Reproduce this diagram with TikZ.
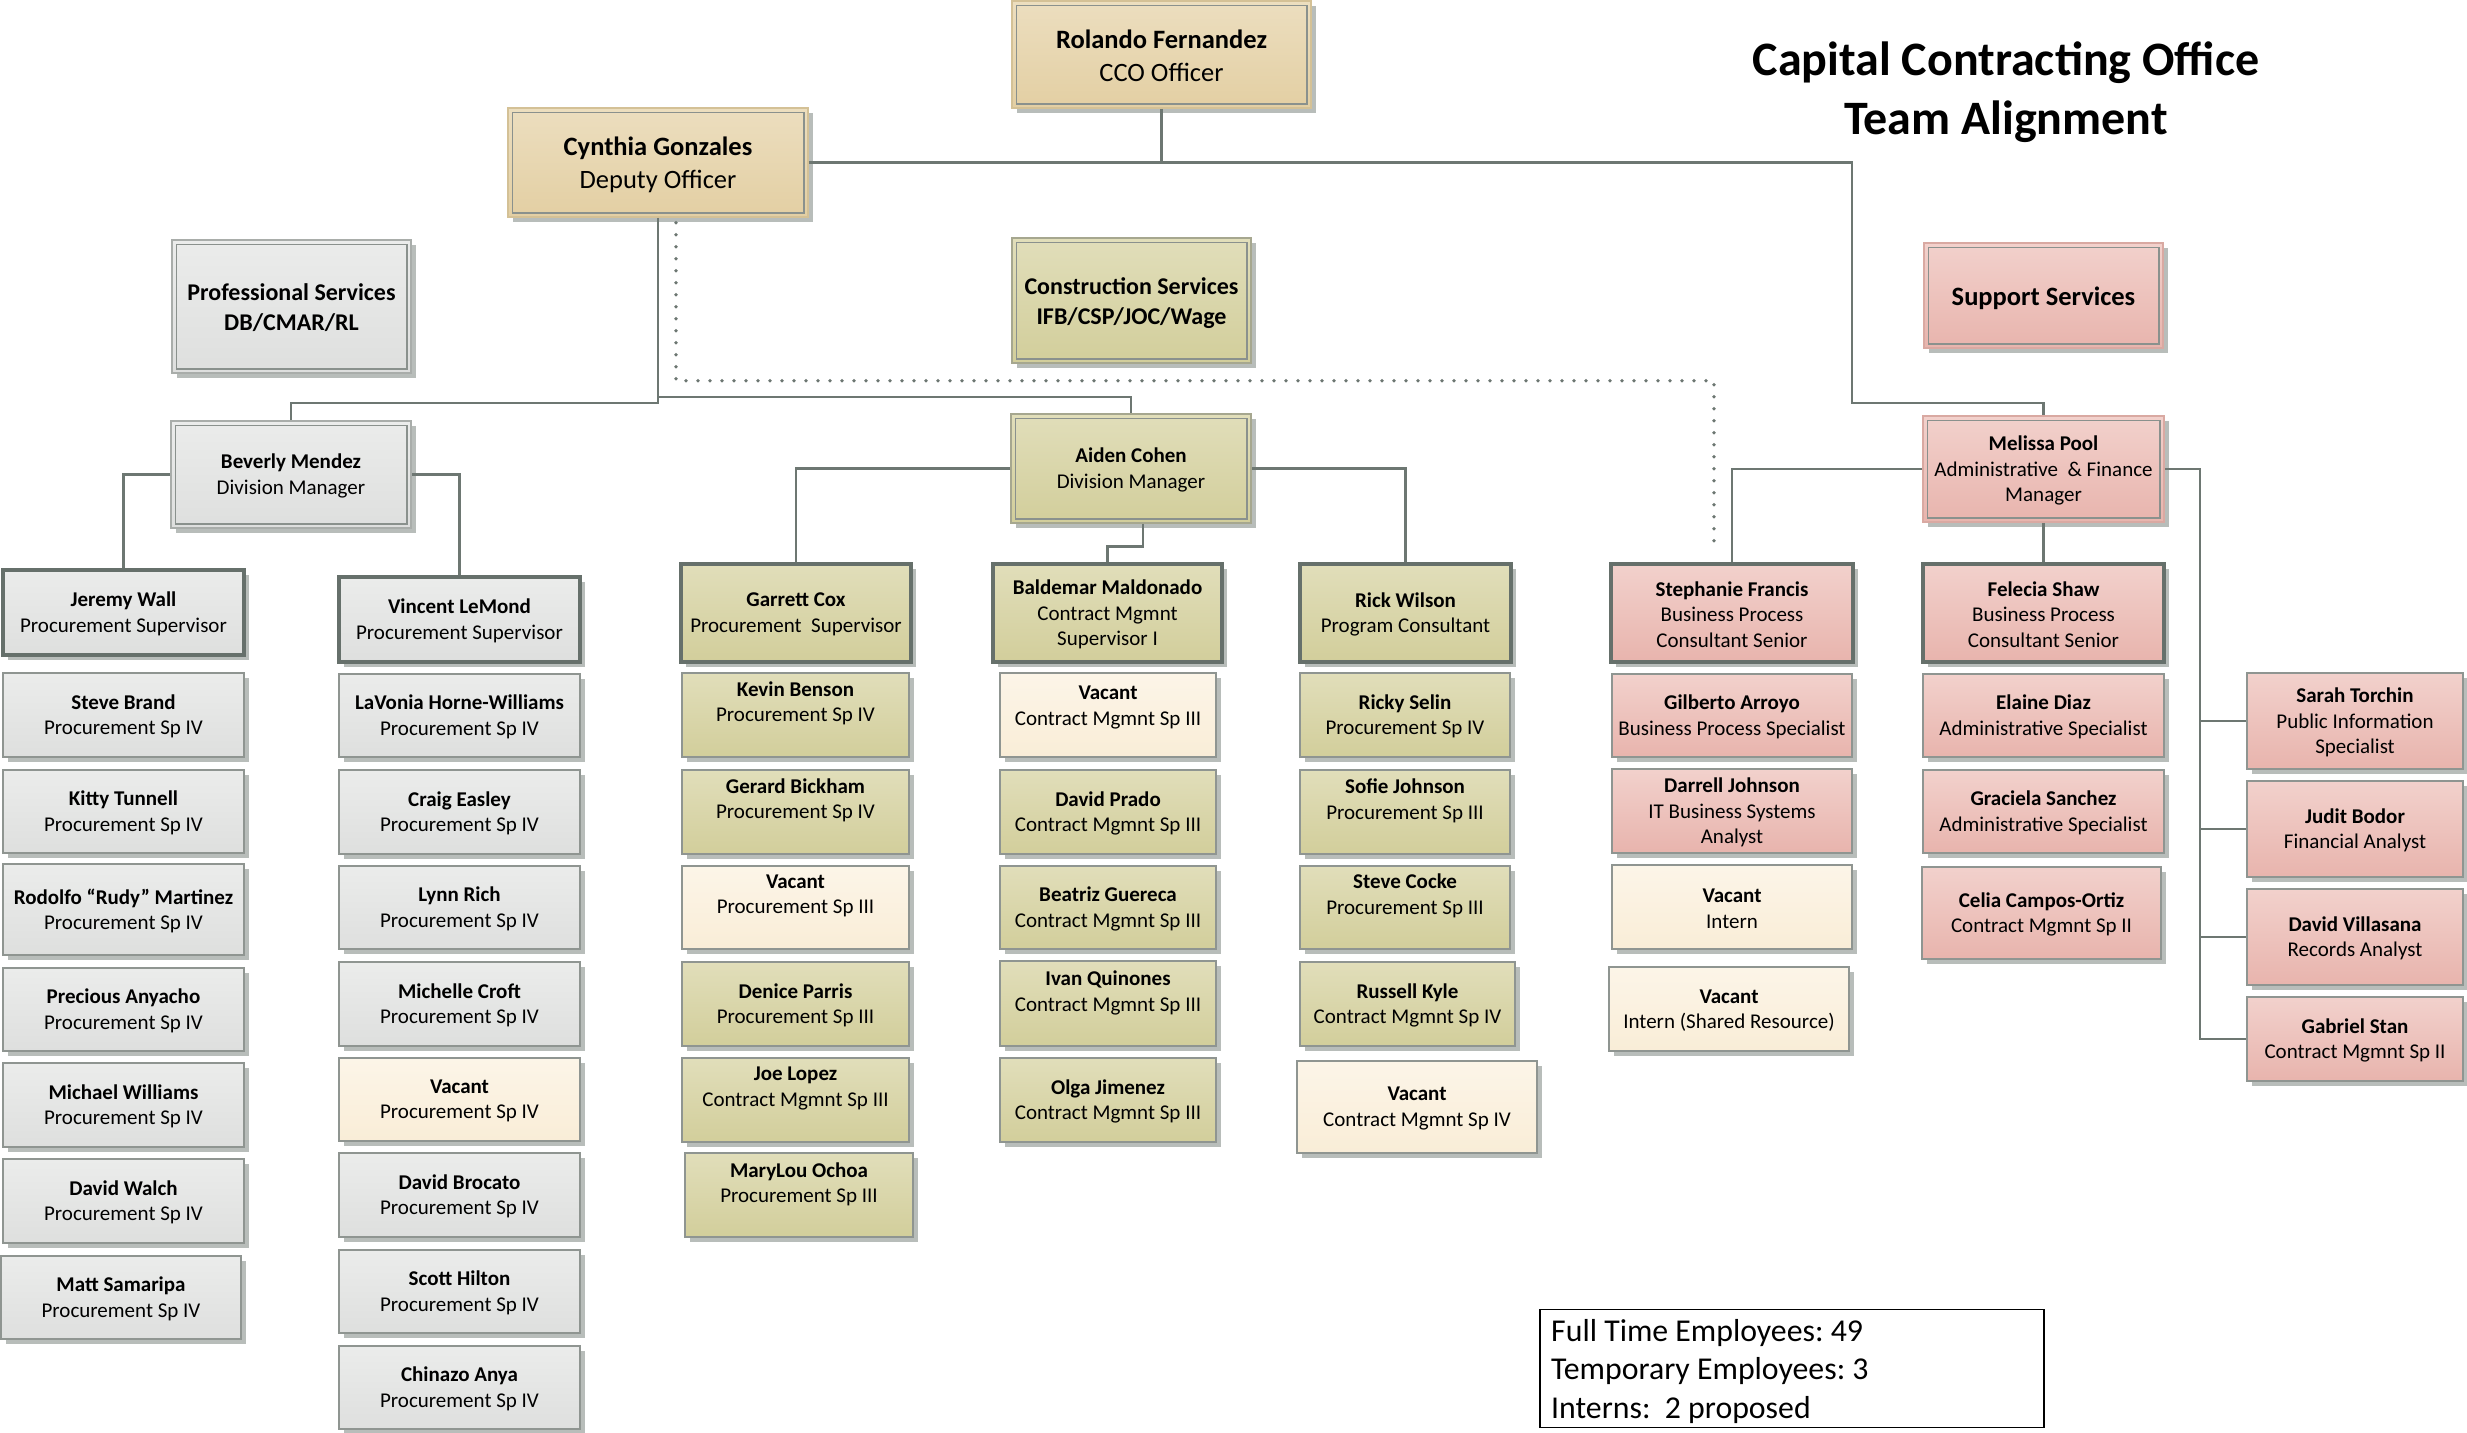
\documentclass[tikz,border=0pt]{standalone}
\usepackage{fontspec}
\setmainfont{Carlito}
\usetikzlibrary{calc}
\frenchspacing

\definecolor{tanT}{HTML}{ECDEBF}
\definecolor{tanB}{HTML}{E3CFA3}
\definecolor{tanO}{HTML}{D4C196}
\definecolor{grT}{HTML}{EBECEB}
\definecolor{grB}{HTML}{DEDFDE}
\definecolor{grO}{HTML}{A9ADAA}
\definecolor{olT}{HTML}{E1DEBA}
\definecolor{olB}{HTML}{D2CE9B}
\definecolor{olO}{HTML}{A6A78F}
\definecolor{crT}{HTML}{FCF5E8}
\definecolor{crB}{HTML}{F9EDD7}
\definecolor{pkT}{HTML}{F2D1CC}
\definecolor{pkB}{HTML}{E8B4AD}
\definecolor{pkO}{HTML}{D9A9A2}
\definecolor{lineC}{HTML}{6D7772}
\definecolor{thinC}{HTML}{8F9591}
\definecolor{thickC}{HTML}{66706B}
\definecolor{innerC}{HTML}{8A918D}
\definecolor{shadowC}{HTML}{B8BDBA}

\newcommand\bnm[1]{\textbf{#1}}

% #1 text opts, #2 name, #3 box style, #4 x1, #5 y1, #6 x2, #7 y2, #8 text raise, #9 text
\newcommand\bx[9][]{%
  \fill[shadowC] ({#4+5},{#5+5}) rectangle ({#6+5},{#7+5});
  \node[boxb,#3,minimum width={(#6-#4)*1pt},minimum height={(#7-#5)*1pt}] (#2) at ({(#4+#6)/2},{(#5+#7)/2}) {};
  \node[txt,#1] (#2-t) at ([yshift={(#8-1.5)*1pt}]#2.center) {#9};
}
\newcommand\inbd[1]{%
  \draw[innerC,line width=1.5pt] ([shift={(5pt,-5pt)}]#1.north west) rectangle ([shift={(-5pt,5pt)}]#1.south east);
}

\begin{document}
\begin{tikzpicture}[x=1pt,y=-1pt,
  boxb/.style={rectangle, inner sep=0pt},
  txt/.style={inner sep=0pt, align=center, text=black, font=\fontsize{21}{25.6}\selectfont},
  fB/.style={font=\fontsize{24}{30}\selectfont},
  fC/.style={font=\fontsize{26.5}{32.5}\selectfont},
  ftan/.style={top color=tanT, bottom color=tanB},
  fgray/.style={top color=grT, bottom color=grB},
  folive/.style={top color=olT, bottom color=olB},
  fcream/.style={top color=crT, bottom color=crB},
  fpink/.style={top color=pkT, bottom color=pkB},
  dbl/.style={line width=1.5pt},
  stf/.style={draw=thinC, line width=1.6pt},
  sup/.style={draw=thickC, line width=4pt},
  conn/.style={draw=lineC, line width=2.6pt},
  dotc/.style={draw=lineC, line width=3.6pt, line cap=round, dash pattern=on 0pt off 12pt}
]
\useasboundingbox (0,0) rectangle (2467,1432);
\fill[white] (0,0) rectangle (2467,1432);

% ---------- top level ----------
\bx[fC]{rolando}{ftan,dbl,draw=tanO}{1012}{1}{1311}{108}{0}{\bnm{Rolando Fernandez}\\CCO Officer}
\inbd{rolando}
\bx[fC]{cynthia}{ftan,dbl,draw=tanO}{508}{108}{808}{217}{-1}{\bnm{Cynthia Gonzales}\\Deputy Officer}
\inbd{cynthia}
\bx[fB]{prof}{fgray,dbl,draw=grO}{172}{240}{411}{373}{0}{\bnm{Professional Services}\\\bnm{DB/CMAR/RL}}
\inbd{prof}
\bx[fB]{constr}{folive,dbl,draw=olO}{1012}{238}{1251}{363}{-1}{\bnm{Construction Services}\\\bnm{IFB/CSP/JOC/Wage}}
\inbd{constr}
\bx[fC]{support}{fpink,dbl,draw=pkO}{1924}{243}{2163}{348}{-1}{\bnm{Support Services}}
\inbd{support}

% ---------- division level ----------
\bx{beverly}{fgray,dbl,draw=grO}{171}{421}{411}{528}{0}{\bnm{Beverly Mendez}\\Division Manager}
\inbd{beverly}
\bx{aiden}{folive,dbl,draw=olO}{1011}{414}{1251}{523}{0}{\bnm{Aiden Cohen}\\Division Manager}
\inbd{aiden}
\bx{melissa}{fpink,dbl,draw=pkO}{1923}{416}{2164}{522}{0}{\bnm{Melissa Pool}\\Administrative~ \& Finance\\Manager}
\inbd{melissa}

% ---------- supervisors ----------
\bx{jeremy}{fgray,sup}{3}{570}{244}{655}{0}{\bnm{Jeremy Wall}\\Procurement Supervisor}
\bx{vincent}{fgray,sup}{339}{577}{580}{662}{0}{\bnm{Vincent LeMond}\\Procurement Supervisor}
\bx{garrett}{folive,sup}{681}{564}{911}{662}{0}{\bnm{Garrett Cox}\\Procurement~ Supervisor}
\bx{baldemar}{folive,sup}{993}{564}{1222}{662}{0}{\bnm{Baldemar Maldonado}\\Contract Mgmnt\\Supervisor I}
\bx{rick}{folive,sup}{1300}{564}{1511}{662}{0}{\bnm{Rick Wilson}\\Program Consultant}
\bx{stephanie}{fpink,sup}{1611}{564}{1853}{662}{0}{\bnm{Stephanie Francis}\\Business Process\\Consultant Senior}
\bx{felecia}{fpink,sup}{1923}{564}{2164}{662}{0}{\bnm{Felecia Shaw}\\Business Process\\Consultant Senior}

% ---------- gray column 1 ----------
\bx{sbrand}{fgray,stf}{3}{673}{244}{757}{0}{\bnm{Steve Brand}\\Procurement Sp IV}
\bx{kitty}{fgray,stf}{3}{770}{244}{853}{0}{\bnm{Kitty Tunnell}\\Procurement Sp IV}
\bx{rudy}{fgray,stf}{3}{864}{244}{955}{0}{\bnm{Rodolfo “Rudy” Martinez}\\Procurement Sp IV}
\bx{precious}{fgray,stf}{3}{968}{244}{1051}{0}{\bnm{Precious Anyacho}\\Procurement Sp IV}
\bx{mwilliams}{fgray,stf}{3}{1063}{244}{1147}{0}{\bnm{Michael Williams}\\Procurement Sp IV}
\bx{walch}{fgray,stf}{3}{1159}{244}{1243}{0}{\bnm{David Walch}\\Procurement Sp IV}
\bx{matt}{fgray,stf}{1}{1256}{241}{1339}{0}{\bnm{Matt Samaripa}\\Procurement Sp IV}

% ---------- gray column 2 ----------
\bx{lavonia}{fgray,stf}{339}{674}{580}{757}{0}{\bnm{LaVonia Horne-Williams}\\Procurement Sp IV}
\bx{craig}{fgray,stf}{339}{770}{580}{854}{0}{\bnm{Craig Easley}\\Procurement Sp IV}
\bx{lynn}{fgray,stf}{339}{866}{580}{949}{0}{\bnm{Lynn Rich}\\Procurement Sp IV}
\bx{michelle}{fgray,stf}{339}{962}{580}{1046}{0}{\bnm{Michelle Croft}\\Procurement Sp IV}
\bx{vacA}{fcream,stf}{339}{1058}{580}{1141}{0}{\bnm{Vacant}\\Procurement Sp IV}
\bx{brocato}{fgray,stf}{339}{1153}{580}{1237}{0}{\bnm{David Brocato}\\Procurement Sp IV}
\bx{hilton}{fgray,stf}{339}{1250}{580}{1333}{0}{\bnm{Scott Hilton}\\Procurement Sp IV}
\bx{chinazo}{fgray,stf}{339}{1346}{580}{1429}{0}{\bnm{Chinazo Anya}\\Procurement Sp IV}

% ---------- olive column 1 ----------
\bx{kevin}{folive,stf}{682}{673}{909}{757}{13}{\bnm{Kevin Benson}\\Procurement Sp IV}
\bx{gerard}{folive,stf}{682}{770}{909}{854}{13}{\bnm{Gerard Bickham}\\Procurement Sp IV}
\bx{vacB}{fcream,stf}{682}{866}{909}{949}{13}{\bnm{Vacant}\\Procurement Sp III}
\bx{denice}{folive,stf}{682}{962}{909}{1046}{0}{\bnm{Denice Parris}\\Procurement Sp III}
\bx{joe}{folive,stf}{682}{1058}{909}{1142}{13}{\bnm{Joe Lopez}\\Contract Mgmnt Sp III}
\bx{marylou}{folive,stf}{685}{1153}{913}{1237}{12}{\bnm{MaryLou Ochoa}\\Procurement Sp III}

% ---------- olive column 2 ----------
\bx{vacC}{fcream,stf}{1000}{673}{1216}{757}{9}{\bnm{Vacant}\\Contract Mgmnt Sp III}
\bx{prado}{folive,stf}{1000}{770}{1216}{854}{0}{\bnm{David Prado}\\Contract Mgmnt Sp III}
\bx{beatriz}{folive,stf}{1000}{866}{1216}{949}{0}{\bnm{Beatriz Guereca}\\Contract Mgmnt Sp III}
\bx{ivan}{folive,stf}{1000}{961}{1216}{1046}{12}{\bnm{Ivan Quinones}\\Contract Mgmnt Sp III}
\bx{olga}{folive,stf}{1000}{1058}{1216}{1142}{0}{\bnm{Olga Jimenez}\\Contract Mgmnt Sp III}

% ---------- olive column 3 ----------
\bx{ricky}{folive,stf}{1300}{673}{1510}{757}{0}{\bnm{Ricky Selin}\\Procurement Sp IV}
\bx{sofie}{folive,stf}{1300}{770}{1510}{854}{13}{\bnm{Sofie Johnson}\\Procurement Sp III}
\bx{cocke}{folive,stf}{1300}{866}{1510}{949}{13}{\bnm{Steve Cocke}\\Procurement Sp III}
\bx{russell}{folive,stf}{1300}{962}{1515}{1046}{0}{\bnm{Russell Kyle}\\Contract Mgmnt Sp IV}
\bx{vacD}{fcream,stf}{1297}{1061}{1537}{1153}{0}{\bnm{Vacant}\\Contract Mgmnt Sp IV}

% ---------- pink column 1 ----------
\bx{gilberto}{fpink,stf}{1612}{674}{1852}{757}{0}{\bnm{Gilberto Arroyo}\\Business Process Specialist}
\bx{darrell}{fpink,stf}{1612}{769}{1852}{853}{0}{\bnm{Darrell Johnson}\\IT Business Systems\\Analyst}
\bx{vacE}{fcream,stf}{1612}{865}{1852}{949}{0}{\bnm{Vacant}\\Intern}
\bx{vacF}{fcream,stf}{1609}{967}{1849}{1051}{0}{\bnm{Vacant}\\Intern (Shared Resource)}

% ---------- pink column 2 ----------
\bx{elaine}{fpink,stf}{1923}{674}{2164}{757}{0}{\bnm{Elaine Diaz}\\Administrative Specialist}
\bx{graciela}{fpink,stf}{1923}{770}{2164}{853}{0}{\bnm{Graciela Sanchez}\\Administrative Specialist}
\bx{celia}{fpink,stf}{1922}{867}{2161}{959}{0}{\bnm{Celia Campos-Ortiz}\\Contract Mgmnt Sp II}

% ---------- pink column 3 ----------
\bx{sarah}{fpink,stf}{2247}{673}{2463}{769}{0}{\bnm{Sarah Torchin}\\Public Information\\Specialist}
\bx{judit}{fpink,stf}{2247}{781}{2463}{877}{0}{\bnm{Judit Bodor}\\Financial Analyst}
\bx{villasana}{fpink,stf}{2247}{889}{2463}{985}{0}{\bnm{David Villasana}\\Records Analyst}
\bx{gabriel}{fpink,stf}{2247}{997}{2463}{1081}{0}{\bnm{Gabriel Stan}\\Contract Mgmnt Sp II}

% ---------- connectors ----------
\coordinate (rt) at (1852,162.5);
\coordinate (rb) at (1852,403);
\coordinate (abus) at (700,397);
\coordinate (mbus) at (2200,469);
\draw[conn] (rolando.south) -- (rolando.south |- cynthia.east);
\draw[conn] (cynthia.east) -- (rt) -- (rb) -| (melissa.north);
\draw[conn] (cynthia.south) -- (cynthia.south |- rb) -| (beverly.north);
\draw[conn] (cynthia.south |- abus) -| (aiden.north);
\draw[dotc] ([xshift=18pt,yshift=-5pt]cynthia.south) -- ++(0,158) -| ([xshift=-18pt,yshift=11pt]stephanie.north);

\draw[conn] (beverly.west) -| (jeremy.north);
\draw[conn] (beverly.east) -| (vincent.north);

\draw[conn] (aiden.west) -| (garrett.north);
\draw[conn] (aiden.east) -| (rick.north);
\draw[conn] ([xshift=12pt]aiden.south) -- ++(0,23) -| (baldemar.north);

\draw[conn] (melissa.west) -| (stephanie.north);
\draw[conn] (melissa.south) -- (felecia.north);
\draw[conn] (melissa.east) -| (gabriel.west -| mbus) -- (gabriel.west);
\draw[conn] (sarah.west -| mbus) -- (sarah.west);
\draw[conn] (judit.west -| mbus) -- (judit.west);
\draw[conn] (villasana.west -| mbus) -- (villasana.west);

% ---------- title ----------
\node[inner sep=0pt, align=center, font=\bfseries\fontsize{48}{58.5}\selectfont] (title) at (2006,92) {Capital Contracting Office\\Team Alignment};

% ---------- summary ----------
\node[draw=black, line width=1.5pt, fill=white, minimum width=504pt, minimum height=118pt, inner sep=0pt] (summary) at (1792,1368.5) {};
\node[anchor=west, inner sep=0pt, align=left, font=\fontsize{31.8}{38.5}\selectfont] (summary-t) at (1551,1371.5) {Full Time Employees: 49\\Temporary Employees: 3\\Interns:~ 2 proposed};
\end{tikzpicture}
\end{document}
